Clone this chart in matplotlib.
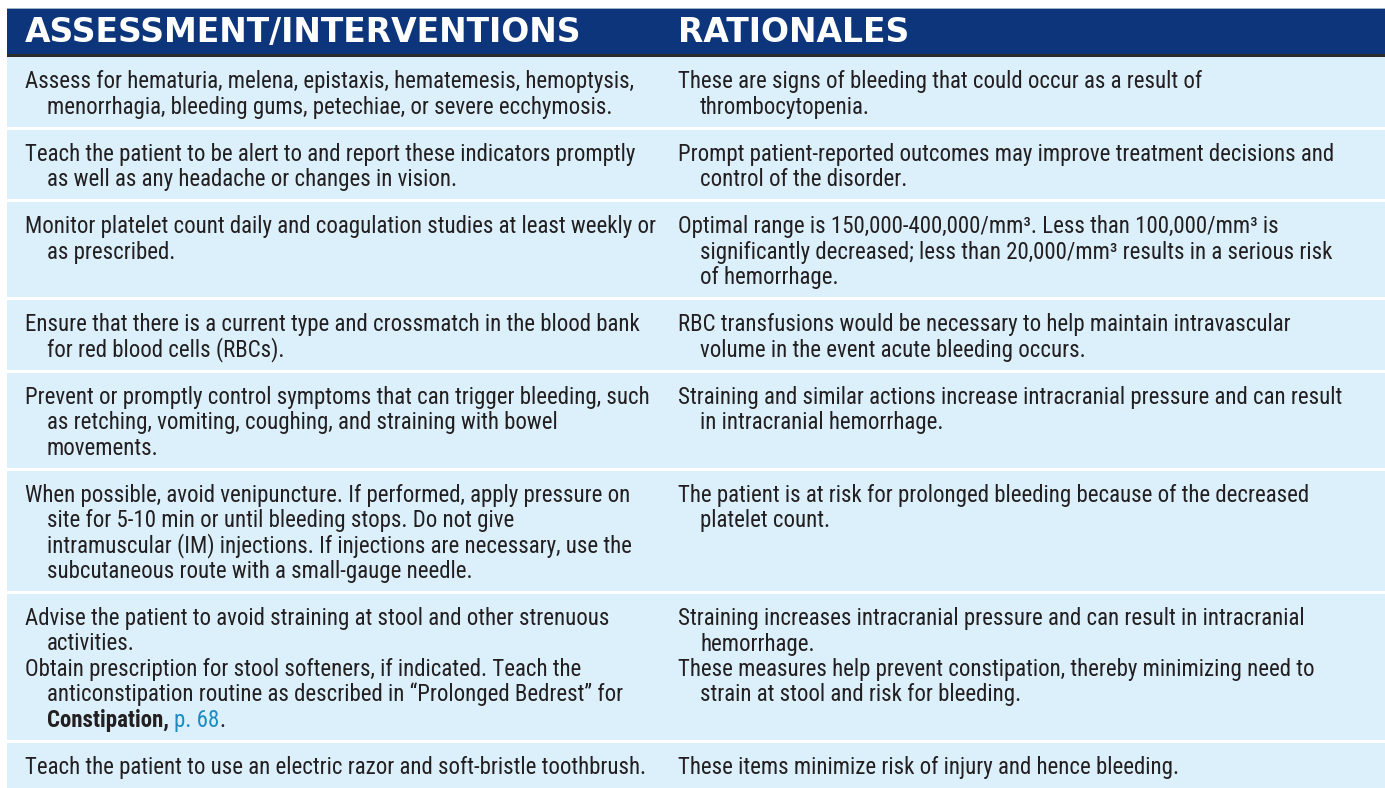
import re
import matplotlib
matplotlib.use('Agg')
import matplotlib.pyplot as plt
from matplotlib.patches import Rectangle
from matplotlib import font_manager as fm

# table text, one list of lines per cell, rows with two entries keep two cells
headers = ['ASSESSMENT/INTERVENTIONS', 'RATIONALES']

interventions = [
    [["Assess for hematuria, melena, epistaxis, hematemesis, hemoptysis,",
      "menorrhagia, bleeding gums, petechiae, or severe ecchymosis."]],
    [["Teach the patient to be alert to and report these indicators promptly",
      "as well as any headache or changes in vision."]],
    [["Monitor platelet count daily and coagulation studies at least weekly or",
      "as prescribed."]],
    [["Ensure that there is a current type and crossmatch in the blood bank",
      "for red blood cells (RBCs)."]],
    [["Prevent or promptly control symptoms that can trigger bleeding, such",
      "as retching, vomiting, coughing, and straining with bowel",
      "movements."]],
    [["When possible, avoid venipuncture. If performed, apply pressure on",
      "site for 5-10 min or until bleeding stops. Do not give",
      "intramuscular (IM) injections. If injections are necessary, use the",
      "subcutaneous route with a small-gauge needle."]],
    [["Advise the patient to avoid straining at stool and other strenuous",
      "activities."],
     ["Obtain prescription for stool softeners, if indicated. Teach the",
      "anticonstipation routine as described in \u201cProlonged Bedrest\u201d for",
      "**Constipation,** {p. 68}."]],
    [["Teach the patient to use an electric razor and soft-bristle toothbrush."]],
]

rationales = [
    [["These are signs of bleeding that could occur as a result of",
      "thrombocytopenia."]],
    [["Prompt patient-reported outcomes may improve treatment decisions and",
      "control of the disorder."]],
    [["Optimal range is 150,000-400,000/mm\u00b3. Less than 100,000/mm\u00b3 is",
      "significantly decreased; less than 20,000/mm\u00b3 results in a serious risk",
      "of hemorrhage."]],
    [["RBC transfusions would be necessary to help maintain intravascular",
      "volume in the event acute bleeding occurs."]],
    [["Straining and similar actions increase intracranial pressure and can result",
      "in intracranial hemorrhage."]],
    [["The patient is at risk for prolonged bleeding because of the decreased",
      "platelet count."]],
    [["Straining increases intracranial pressure and can result in intracranial",
      "hemorrhage."],
     ["These measures help prevent constipation, thereby minimizing need to",
      "strain at stool and risk for bleeding."]],
    [["These items minimize risk of injury and hence bleeding."]],
]

NAVY = '#0c357b'
RULE = '#2b2b2b'
BODY = '#dbf0fb'
INK = '#231f20'
LINK = '#1a8cc2'

W, H = 1385, 788
names = {f.name for f in fm.fontManager.ttflist}
BODY_FONT = 'Liberation Sans'
for cand in ['Liberation Sans Narrow', 'Roboto Condensed', 'Roboto']:
    if cand in names:
        BODY_FONT = cand
        break
HEAD_FONT = 'DejaVu Sans'

fig = plt.figure(figsize=(W / 100, H / 100), dpi=100)
ax = fig.add_axes([0, 0, 1, 1])
ax.set_xlim(0, W)
ax.set_ylim(H, 0)
ax.axis('off')
r = fig.canvas.get_renderer()


def width(s, **kw):
    # bars keep trailing spaces in the measurement
    t = ax.text(0, 0, '|' + s + '|', **kw)
    t2 = ax.text(0, 0, '||', **kw)
    w = t.get_window_extent(r).width - t2.get_window_extent(r).width
    t.remove()
    t2.remove()
    return w


def fit(s, target, **kw):
    return 10 * target / width(s, fontsize=10, **kw)


head_size = fit(headers[0], 560, family=HEAD_FONT, fontweight='bold')
body_size = fit(interventions[-1][0][0], 616, family=BODY_FONT)


def draw_line(x, y, line):
    for p in re.split(r'(\*\*.*?\*\*|\{.*?\})', line):
        if not p:
            continue
        kw = dict(fontsize=body_size, family=BODY_FONT, color=INK)
        if p.startswith('**'):
            p = p[2:-2]
            kw['fontweight'] = 'bold'
        elif p.startswith('{'):
            p = p[1:-1]
            kw['color'] = LINK
        ax.text(x, y, p, va='baseline', ha='left', **kw)
        x += width(p, **kw)


# header
x0 = 7
ax.add_patch(Rectangle((x0, 8), W - x0, 1.2, color='#9fb0c9', lw=0))
ax.add_patch(Rectangle((x0, 9), W - x0, 45, color=NAVY, lw=0))
ax.add_patch(Rectangle((x0, 54), W - x0, 3, color=RULE, lw=0))
col_x = [25, 678]
for cx, h in zip(col_x, headers):
    ax.text(cx, 42, h, family=HEAD_FONT, fontweight='bold', fontsize=head_size,
            color='white', va='baseline', ha='left')

# body rows
LINE, PAD_TOP, PAD_BOT, SEP, INDENT = 25.5, 24, 20, 3, 22
base = 7
top = 57
for j, (left, right) in enumerate(zip(interventions, rationales)):
    n = sum(max(len(a), len(b)) for a, b in zip(left, right))
    h = PAD_TOP + (n - 1) * LINE + PAD_BOT
    if j == len(interventions) - 1:
        h = H - top
    ax.add_patch(Rectangle((x0, top), W - x0, h, color=BODY, lw=0))
    k = 0
    for a, b in zip(left, right):
        for cx, cell in zip(col_x, (a, b)):
            for i, line in enumerate(cell):
                y = top + PAD_TOP + (k + i) * LINE + base
                draw_line(cx + (INDENT if i else 0), y, line)
        k += max(len(a), len(b))
    top += h + SEP

fig.savefig('out.png', dpi=100)
